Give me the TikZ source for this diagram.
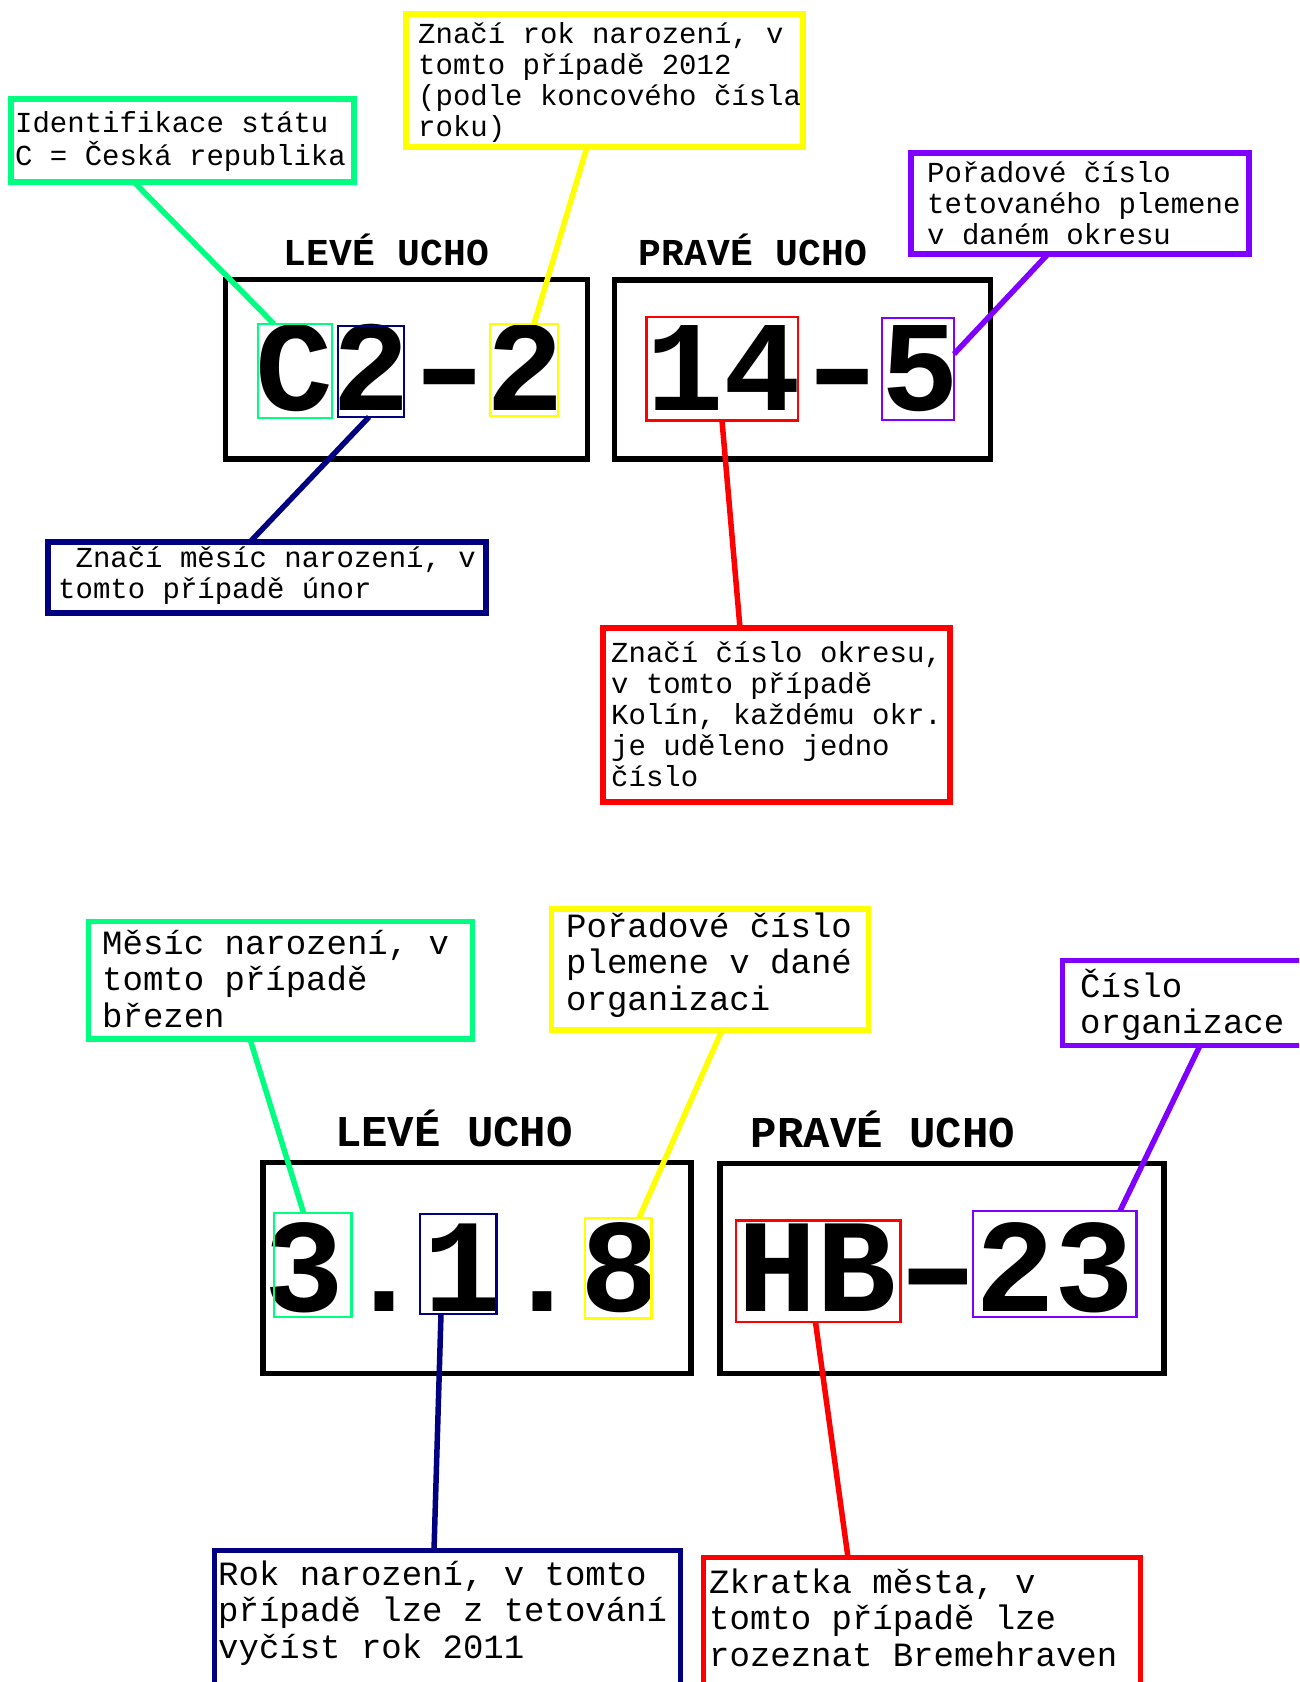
\documentclass[tikz,border=0pt]{standalone}
\usepackage{fontspec}
\setmonofont{Liberation Mono}
\usetikzlibrary{calc}
\definecolor{cgreen}{HTML}{00FF80}
\definecolor{cyellow}{HTML}{FFFF00}
\definecolor{cnavy}{HTML}{000080}
\definecolor{cred}{HTML}{FF0000}
\definecolor{cpurple}{HTML}{8000FF}
\newcommand{\mylines}[1]{\begin{tabular}[t]{@{}l@{}}#1\end{tabular}}
\tikzset{
  callout/.style={draw, line width=5.5pt, inner sep=0pt, outer sep=0pt, anchor=north west},
  earbox/.style={draw=black, line width=5.5pt, inner sep=0pt, outer sep=0pt, anchor=north west},
  sbox/.style={draw, line width=2.5pt, inner sep=0pt, outer sep=0pt, anchor=north west},
  conn/.style={line width=5.5pt},
  txtA/.style={inner sep=0pt, anchor=base west, font=\ttfamily\fontsize{29}{31}\selectfont},
  txtB/.style={inner sep=0pt, anchor=base west, font=\ttfamily\fontsize{34}{36.6}\selectfont},
  headA/.style={inner sep=0pt, anchor=base, font=\ttfamily\bfseries\fontsize{38}{40}\selectfont},
  headB/.style={inner sep=0pt, anchor=base, font=\ttfamily\bfseries\fontsize{44}{46}\selectfont},
  bigA/.style={inner sep=0pt, anchor=base, font=\ttfamily\bfseries\fontsize{129}{130}\selectfont},
  bigB/.style={inner sep=0pt, anchor=base, font=\ttfamily\bfseries\fontsize{133}{134}\selectfont},
}
\begin{document}
\begin{tikzpicture}[x=1pt,y=-1pt]
\useasboundingbox (0,0) rectangle (1299,1682);
\clip (0,0) rectangle (1299,1682);
\fill[white] (0,0) rectangle (1299,1682);

% ---------------- TOP ----------------
\node[earbox, minimum width=362pt, minimum height=179.5pt] (eL1) at (225.5,279.5) {};
\node[earbox, minimum width=376pt, minimum height=179pt] (eR1) at (614.5,280) {};
\node[headA] (hL1) at (386.5,265) {LEVÉ UCHO};
\node[headA] (hR1) at (753,265) {PRAVÉ UCHO};

\node[bigA] (gC) at (294.5,410) {C};
\node[bigA] (g2a) at (371,410) {2};
\node[bigA] (gd1) at (450,410) {\scalebox{1.4}[1]{-}};
\node[bigA] (g2b) at (525,410) {2};
\node[bigA] (g14) at (724,410) {14};
\node[bigA] (gd2) at (843,410) {\scalebox{1.4}[1]{-}};
\node[bigA] (g5) at (920,410) {5};

\node[sbox, draw=cgreen, minimum width=74pt, minimum height=94pt] (bC) at (258,324) {};
\node[sbox, draw=cnavy, minimum width=66pt, minimum height=91pt] (bN2) at (338,326) {};
\node[sbox, draw=cyellow, minimum width=68pt, minimum height=92pt] (bY2) at (490,324) {};
\node[sbox, draw=cred, minimum width=151.5pt, minimum height=103.5pt] (bR14) at (646.5,317) {};
\node[sbox, draw=cpurple, minimum width=72pt, minimum height=102pt] (bP5) at (882,318) {};

\node[callout, draw=cgreen, minimum width=343pt, minimum height=83pt] (gA) at (11,99) {};
\node[txtA] (gAt) at (15,132) {\mylines{Identifikace státu\\C = Česká republika}};

\node[callout, draw=cyellow, minimum width=397pt, minimum height=133pt] (yA) at (406,14) {};
\node[txtA] (yAt) at (418,43) {\mylines{Značí rok narození, v\\tomto případě 2012\\(podle koncového čísla\\roku)}};

\node[callout, draw=cpurple, minimum width=338pt, minimum height=101pt] (pA) at (911,153) {};
\node[txtA] (pAt) at (927,182) {\mylines{Pořadové číslo\\tetovaného plemene\\v daném okresu}};

\node[callout, draw=cnavy, minimum width=438pt, minimum height=71pt] (nA) at (48,542) {};
\node[txtA] (nAt) at (58,567) {\mylines{\phantom{x}Značí měsíc narození, v\\tomto případě únor}};

\node[callout, draw=cred, minimum width=347pt, minimum height=174pt] (rA) at (603,628) {};
\node[txtA] (rAt) at (611,662) {\mylines{Značí číslo okresu,\\v tomto případě\\Kolín, každému okr.\\je uděleno jedno\\číslo}};

\draw[conn, cgreen] ($(gA.south west)+(123,0)$) -- ($(bC.north west)+(16,0)$);
\draw[conn, cyellow] ($(yA.south west)+(181,0)$) -- ($(bY2.north west)+(44,0)$);
\draw[conn, cnavy] ($(bN2.south west)+(31,0)$) -- ($(nA.north west)+(202,0)$);
\draw[conn, cred] ($(bR14.south west)+(75.5,0)$) -- ($(rA.north west)+(137,0)$);
\draw[conn, cpurple] ($(pA.south west)+(137,0)$) -- ($(bP5.north east)+(0,36)$);

% ---------------- BOTTOM ----------------
\node[earbox, minimum width=428pt, minimum height=211pt] (eL2) at (263,1162.5) {};
\node[earbox, minimum width=444pt, minimum height=210pt] (eR2) at (720,1163.5) {};
\node[headB] (hL2) at (454,1146) {LEVÉ UCHO};
\node[headB] (hR2) at (883,1147) {PRAVÉ UCHO};

\node[bigB] (g3) at (304.7,1311) {3};
\node[bigB] (gp1) at (384,1311) {.};
\node[bigB] (g1) at (463,1311) {1};
\node[bigB] (gp2) at (542.4,1311) {.};
\node[bigB] (g8) at (620.5,1311) {8};
\node[bigB] (gHB) at (817,1311) {HB};
\node[bigB] (gd3) at (938,1311) {\scalebox{1.55}[1]{-}};
\node[bigB] (g23) at (1055,1311) {23};

\node[sbox, draw=cgreen, minimum width=77.5pt, minimum height=104pt] (b3) at (274,1213) {};
\node[sbox, draw=cnavy, minimum width=76.5pt, minimum height=100pt] (b1) at (420,1214) {};
\node[sbox, draw=cyellow, minimum width=66.5pt, minimum height=100.5pt] (b8) at (585,1218) {};
\node[sbox, draw=cred, minimum width=164.5pt, minimum height=101.5pt] (bHB) at (736,1220.5) {};
\node[sbox, draw=cpurple, minimum width=163.5pt, minimum height=106pt] (b23) at (973,1211) {};

\node[callout, draw=cgreen, minimum width=384pt, minimum height=117.5pt] (gB) at (88.5,921.5) {};
\node[txtB] (gBt) at (102,954) {\mylines{Měsíc narození, v\\tomto případě\\březen}};

\node[callout, draw=cyellow, minimum width=317pt, minimum height=121pt] (yB) at (551.5,909) {};
\node[txtB] (yBt) at (566,937) {\mylines{Pořadové číslo\\plemene v dané\\organizaci}};

\node[callout, draw=cpurple, minimum width=257pt, minimum height=85pt] (pB) at (1062.5,960.5) {};
\node[txtB] (pBt) at (1080,997) {\mylines{Číslo\\organizace}};

\node[callout, draw=cnavy, minimum width=466pt, minimum height=170pt] (nB) at (214.5,1550.5) {};
\node[txtB] (nBt) at (218,1585) {\mylines{Rok narození, v tomto\\případě lze z tetování\\vyčíst rok 2011}};

\node[callout, draw=cred, minimum width=437pt, minimum height=162pt] (rB) at (703.5,1557.5) {};
\node[txtB] (rBt) at (709,1593) {\mylines{Zkratka města, v\\tomto případě lze\\rozeznat Bremehraven}};

\draw[conn, cgreen] ($(gB.south west)+(161.5,0)$) -- ($(b3.north west)+(29.6,0)$);
\draw[conn, cyellow] ($(yB.south west)+(170.5,0)$) -- ($(b8.north west)+(54,0)$);
\draw[conn, cpurple] ($(pB.south west)+(137.5,0)$) -- ($(b23.north west)+(147,0)$);
\draw[conn, cnavy] ($(b1.south west)+(21,0)$) -- ($(nB.north west)+(219.5,0)$);
\draw[conn, cred] ($(bHB.south west)+(79.5,0)$) -- ($(rB.north west)+(144.5,0)$);
\end{tikzpicture}
\end{document}
